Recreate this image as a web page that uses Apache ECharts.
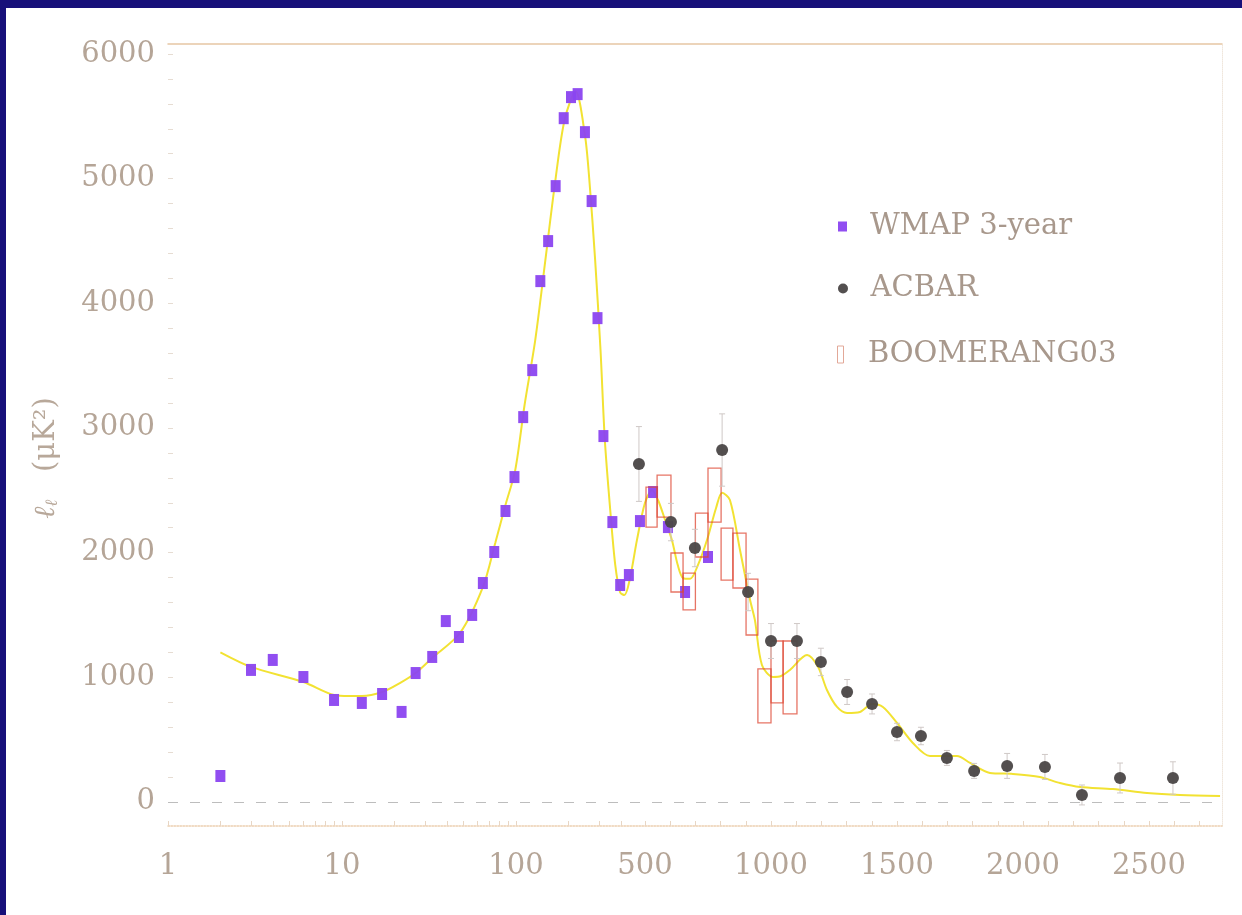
<!DOCTYPE html>
<html>
  <head>
    <meta charset="utf-8">
    <title>CMB power spectrum</title>
    <style>
      html, body { margin: 0; padding: 0; background: #fff; }
      #wrap { width: 1242px; height: 915px; }
    </style>
    <script src="https://cdn.jsdelivr.net/npm/echarts/dist/echarts.min.js"></script>
  </head>
  <body>
    <div id="wrap"></div>
    <script>
    // data (multipole l, value in uK^2)
    var wmapL = [2, 3, 4, 6, 9, 13, 17, 22, 26.5, 33, 39.5, 47, 56, 64.5, 75, 87, 98, 110, 124, 138,
                 153, 169, 188, 207, 226, 249, 272, 294, 318, 358, 397, 436, 480, 532, 591, 659, 750];
    var wmapV = [208, 1059, 1139, 1002, 818, 794, 866, 722, 1034, 1163, 1451, 1323, 1500, 1756, 2005, 2334, 2606, 3087, 3464, 4178,
                 4499, 4940, 5485, 5654, 5678, 5373, 4820, 3881, 2935, 2245, 1740, 1820, 2253, 2486, 2205, 1684, 1965];

    var acbarL = [476, 603, 698, 806, 909, 1000, 1103, 1198, 1302, 1401, 1500, 1595, 1698, 1806, 1937, 2087, 2234, 2385, 2595];
    var acbarV = [2711, 2245, 2037, 2823, 1684, 1291, 1291, 1123, 882, 786, 561, 529, 353, 249, 289, 281, 56, 192, 192];
    var acbarErr = [300, 150, 150, 290, 150, 140, 140, 110, 100, 80, 70, 70, 60, 60, 100, 100, 80, 120, 130];

    var boomL0 = [504, 548, 603, 651, 700, 750, 802, 849, 901, 948, 1000, 1048];
    var boomL1 = [548, 603, 651, 700, 750, 802, 849, 901, 948, 1000, 1048, 1103];
    var boomLo = [2205, 2285, 1684, 1540, 1965, 2245, 1780, 1716, 1339, 634, 794, 706];
    var boomHi = [2526, 2622, 1997, 1836, 2317, 2678, 2197, 2157, 1788, 1067, 1291, 1291];

    var theoryL = [2, 3, 6, 9, 11, 13, 17, 21.5, 27, 33, 47.6, 64.5, 76, 87, 99, 112, 129, 147, 167, 190,
                   220, 249, 264, 285, 306, 324, 348, 372, 397, 420, 440, 468, 500, 528, 552, 580, 607, 630,
                   651, 679, 710, 746, 782, 806, 837, 877, 917, 936, 964, 1008, 1040, 1075, 1143, 1187, 1222,
                   1262, 1302, 1353, 1401, 1444, 1500, 1563, 1631, 1738, 1790, 1869, 1960, 2067, 2147, 2226,
                   2357, 2492, 2623, 2782];
    var theoryV = [1200, 1083, 962, 858, 850, 850, 882, 954, 1043, 1155, 1355, 1724, 2077, 2382, 2662, 3184, 3705, 4330, 4948, 5469,
                   5700, 5349, 4988, 4346, 3625, 2903, 2342, 1900, 1680, 1660, 1790, 2100, 2400, 2500, 2420, 2260, 2100, 1900,
                   1796, 1790, 1900, 2101, 2358, 2480, 2422, 2021, 1620, 1460, 1099, 1002, 1010, 1059, 1179, 1083, 898,
                   762, 714, 722, 786, 762, 634, 473, 369, 369, 313, 233, 225, 200, 152, 120,
                   104, 72, 56, 48];

    var xTickLabels = [1, 10, 100, 500, 1000, 1500, 2000, 2500];
    var xMinorTicks = [2, 3, 4, 5, 6, 7, 8, 9, 20, 30, 40, 50, 60, 70, 80, 90, 200, 300, 400,
                       600, 700, 800, 900, 1100, 1200, 1300, 1400, 1600, 1700, 1800, 1900, 2100, 2200, 2300, 2400, 2600, 2700];
    var yTickLabels = [0, 1000, 2000, 3000, 4000, 5000, 6000];
    var yMinorTicks = [];
    for (var t = 0; t <= 6000; t += 200) yMinorTicks.push(t);

    // hybrid axis: log below l~420, linear above
    function U(l) {
      return l <= 420 ? 174 * Math.log10(l) : 351 + 0.252 * l;
    }

    var labelFont = 'DejaVu Serif';
    var labelColor = '#b5a597';
    var legendText = { fontFamily: labelFont, fontSize: 29, color: '#a8988c', padding: [0, 0, 0, 10] };

    var chart = echarts.init(document.getElementById('wrap'));

    var option = {
      animation: false,
      backgroundColor: '#ffffff',
      grid: { left: 168, right: 20, top: 44, bottom: 89 },
      legend: [{
        left: 833, top: 207, itemWidth: 25, itemHeight: 10, textStyle: legendText,
        data: [{ name: 'WMAP 3-year', icon: 'path://M0,0h9v10h-9z', itemStyle: { color: '#8b45f0' } }]
      }, {
        left: 833, top: 269, itemWidth: 25, itemHeight: 10, textStyle: legendText,
        data: [{ name: 'ACBAR', icon: 'circle', itemStyle: { color: '#4a4646' } }]
      }, {
        left: 832, top: 335, itemWidth: 25, itemHeight: 17, textStyle: legendText,
        data: [{ name: 'BOOMERANG03', icon: 'path://M0,0h6v17h-6z',
                 itemStyle: { color: 'rgba(0,0,0,0)', borderColor: '#e2a898', borderWidth: 1 } }]
      }],
      xAxis: [{
        type: 'value', min: 0, max: 1054, position: 'bottom',
        axisLine: { show: true, onZero: false, lineStyle: { color: '#eccfb0', type: 'dotted', width: 1.5 } },
        axisTick: { show: true, inside: true, length: 5, customValues: xMinorTicks.concat(xTickLabels).map(U),
                    lineStyle: { color: '#e8d6c4' } },
        axisLabel: {
          customValues: xTickLabels.map(U),
          formatter: function (v) {
            for (var i = 0; i < xTickLabels.length; i++) {
              if (Math.abs(U(xTickLabels[i]) - v) < 0.5) return String(xTickLabels[i]);
            }
            return '';
          },
          fontFamily: labelFont, fontSize: 29, color: labelColor, margin: 26
        },
        splitLine: { show: false }
      }, {
        type: 'value', min: 0, max: 1054, position: 'top',
        axisLine: { show: true, onZero: false, lineStyle: { color: '#e6c6a4', width: 1.5 } },
        axisTick: { show: false }, axisLabel: { show: false }, splitLine: { show: false }
      }],
      yAxis: [{
        type: 'value', min: -193, max: 6080, position: 'left',
        axisLine: { show: false, onZero: false },
        axisTick: { show: true, inside: true, length: 5, customValues: yMinorTicks,
                    lineStyle: { color: '#e6dcd2' } },
        axisLabel: { customValues: yTickLabels, formatter: function (v) { return String(v); },
                     fontFamily: labelFont, fontSize: 29, color: labelColor, margin: 13 },
        splitLine: { show: false }
      }, {
        type: 'value', min: -193, max: 6080, position: 'right',
        axisLine: { show: true, onZero: false, lineStyle: { color: '#f0e6dc', type: 'dotted' } },
        axisTick: { show: false }, axisLabel: { show: false }, splitLine: { show: false }
      }],
      graphic: [
        { type: 'rect', left: 0, top: 0, shape: { width: 1242, height: 8 }, style: { fill: '#17107a' }, z: 100 },
        { type: 'rect', left: 0, top: 0, shape: { width: 6, height: 915 }, style: { fill: '#17107a' }, z: 100 },
        {
          type: 'text', x: 46, y: 458, rotation: Math.PI / 2,
          style: {
            text: '{i|ℓ}{s|ℓ}   (μK²)',
            align: 'center', verticalAlign: 'middle',
            fontFamily: labelFont, fontSize: 29, fill: '#b8a89a',
            rich: {
              i: { fontFamily: labelFont, fontSize: 29, fontStyle: 'italic', fill: '#b8a89a' },
              s: { fontFamily: labelFont, fontSize: 17, fontStyle: 'italic', fill: '#b8a89a', padding: [14, 0, 0, 0] }
            }
          }
        }
      ],
      series: [
        {
          name: 'theory', type: 'line', smooth: 0.3, symbol: 'none', z: 1,
          lineStyle: { color: '#f2e232', width: 2 },
          data: theoryL.map(function (l, i) { return [U(l), theoryV[i]]; }),
          markLine: {
            silent: true, symbol: ['none', 'none'], label: { show: false },
            lineStyle: { color: '#bdbdbd', type: [10, 12], width: 1 },
            data: [{ yAxis: 0 }]
          }
        },
        {
          name: 'WMAP 3-year', type: 'scatter', symbol: 'rect', symbolSize: [10, 12], z: 3,
          itemStyle: { color: '#8b45f0', opacity: 0.95 },
          data: wmapL.map(function (l, i) { return [U(l), wmapV[i]]; })
        },
        {
          name: 'BOOMERANG03', type: 'custom', z: 4,
          itemStyle: { color: '#e0a090' },
          renderItem: function (params, api) {
            var p0 = api.coord([U(api.value(0)), api.value(3)]);
            var p1 = api.coord([U(api.value(1)), api.value(2)]);
            return {
              type: 'rect',
              shape: { x: p0[0], y: p0[1], width: p1[0] - p0[0], height: p1[1] - p0[1] },
              style: { fill: 'none', stroke: 'rgba(222,70,50,0.75)', lineWidth: 1.3 }
            };
          },
          data: boomL0.map(function (l, i) { return [l, boomL1[i], boomLo[i], boomHi[i]]; })
        },
        {
          name: 'ACBAR err', type: 'custom', z: 5, silent: true,
          renderItem: function (params, api) {
            var x = U(api.value(0));
            var top = api.coord([x, api.value(1) + api.value(2)]);
            var bot = api.coord([x, api.value(1) - api.value(2)]);
            var st = { stroke: '#cfc8c6', lineWidth: 1 };
            return {
              type: 'group',
              children: [
                { type: 'line', shape: { x1: top[0], y1: top[1], x2: bot[0], y2: bot[1] }, style: st },
                { type: 'line', shape: { x1: top[0] - 3, y1: top[1], x2: top[0] + 3, y2: top[1] }, style: st },
                { type: 'line', shape: { x1: bot[0] - 3, y1: bot[1], x2: bot[0] + 3, y2: bot[1] }, style: st }
              ]
            };
          },
          data: acbarL.map(function (l, i) { return [l, acbarV[i], acbarErr[i]]; })
        },
        {
          name: 'ACBAR', type: 'scatter', symbol: 'circle', symbolSize: 12, z: 6,
          itemStyle: { color: '#4a4646', opacity: 0.95 },
          data: acbarL.map(function (l, i) { return [U(l), acbarV[i]]; })
        }
      ]
    };

    chart.setOption(option);
    </script>
  </body>
</html>
